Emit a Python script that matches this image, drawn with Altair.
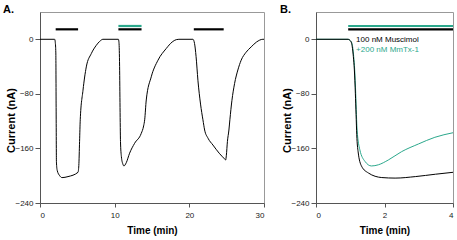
import altair as alt
import pandas as pd

# ---------------- data ----------------
# Panel A: current trace (time in min, current in nA)
a_time = [0, 1.97, 2.05, 2.12, 2.16, 2.2, 2.3, 2.64, 2.95, 3.75, 5.09, 5.2, 5.3, 5.39,
          5.76, 6.2, 6.87, 7.54, 8.0, 8.43, 10.5, 10.58, 10.66, 10.72, 10.78, 10.9,
          11.1, 11.24, 11.55, 12.0, 12.67, 13.56, 13.88, 14.02, 14.23, 14.9, 15.8,
          16.9, 17.7, 18.25, 18.6, 20.48, 20.7, 20.9, 21.15, 21.5, 21.82, 22.05,
          22.5, 23.16, 24.0, 24.72, 24.86, 24.96, 25.1, 25.3, 25.43, 25.7, 26.06,
          26.5, 26.94, 27.6, 28.28, 29.0, 29.85, 30]
a_current = [0, 0, -5, -20, -100, -180, -192, -200, -202.8, -201.3, -195, -185, -150, -118,
             -74.6, -40.5, -21, -8.8, -3, 0, 0, -5, -40, -100, -150, -172,
             -183, -185.7, -181, -167, -152.5, -138, -127, -118, -89, -55, -30.7,
             -13.6, -4, -0.5, 0, 0, -6.3, -25, -60, -95, -118, -133,
             -145, -155, -167, -175.4, -177, -170, -150, -133, -118, -90, -64.8,
             -45, -30.7, -19, -11.2, -4, 0, 0]

# Panel A: application bars (start, end, level, colour)
a_bar_start = [2.1, 10.5, 10.5, 20.6]
a_bar_end = [5.1, 13.6, 13.6, 24.6]
a_bar_level = [14.6, 14.6, 19.5, 14.6]
a_bar_color = ["#000000", "#000000", "#2ba88c", "#000000"]

# Panel B: two traces
b_time_black = [0, 0.94, 1.0, 1.04, 1.09, 1.12, 1.15, 1.17, 1.19, 1.23, 1.33, 1.53,
                1.92, 2.31, 2.9, 3.49, 4.0]
b_curr_black = [0, 0, -2, -6, -25, -45, -80, -110, -140, -165, -186, -196,
                -202.7, -203.5, -201.3, -197.8, -195]
b_time_green = [0, 0.94, 1.0, 1.05, 1.1, 1.13, 1.16, 1.18, 1.2, 1.28, 1.43, 1.62,
                1.82, 2.11, 2.5, 2.99, 3.47, 4.0]
b_curr_green = [0, 0, -2, -6, -25, -45, -80, -110, -133, -162, -179, -185.7,
                -184, -177, -164.7, -153.5, -143.7, -137]

# Panel B: bars and labels
b_bar_start = [0.94, 0.94]
b_bar_end = [4.0, 4.0]
b_bar_level = [19.5, 14.6]
b_bar_color = ["#2ba88c", "#000000"]
b_label_text = ["100 nM Muscimol", "+200 nM MmTx-1"]
b_label_time = [1.17, 1.17]
b_label_curr = [-1, -16]
b_label_color = ["#000000", "#2ba88c"]

GREEN = "#2ba88c"
FONT = "Liberation Sans"
TICKFONT = "Liberation Sans Narrow, Liberation Sans, Arial, sans-serif"

Y_DOMAIN = [-240, 40]
Y_VALUES = [0, -80, -160, -240]


def y_axis():
    return alt.Axis(values=Y_VALUES, title="Current (nA)", grid=False,
                    titleFont=FONT, titleFontSize=11, titleFontWeight="bold",
                    titleColor="black", titleX=-29, titleY=108,
                    titleBaseline="middle", titleAngle=-90,
                    labelFont=TICKFONT, labelFontSize=8, labelColor="#222",
                    tickSize=5, labelPadding=2, tickColor="#555",
                    domainColor="#555")


def x_axis(values):
    return alt.Axis(values=values, title="Time (min)", grid=False,
                    titleFont=FONT, titleFontSize=10, titleFontWeight="bold",
                    titleColor="black", titleY=27, titleBaseline="middle",
                    labelFont=TICKFONT, labelFontSize=8, labelColor="#222",
                    tickSize=4, labelPadding=4, tickColor="#555",
                    domainColor="#555")


# ---------------- panel A ----------------
dfA = pd.DataFrame({"t": a_time, "I": a_current})
barsA = pd.DataFrame({"s": a_bar_start, "e": a_bar_end, "lvl": a_bar_level,
                      "c": a_bar_color})

xA = alt.X("t:Q", scale=alt.Scale(domain=[0, 30], nice=False), axis=x_axis([0, 10, 20, 30]))
yA = alt.Y("I:Q", scale=alt.Scale(domain=Y_DOMAIN, nice=False), axis=y_axis())

lineA = alt.Chart(dfA).mark_line(color="black", strokeWidth=1,
                                 interpolate="monotone").encode(x=xA, y=yA)
ruleA = alt.Chart(barsA).mark_rule(strokeWidth=2.2).encode(
    x=alt.X("s:Q"), x2="e:Q", y=alt.Y("lvl:Q"),
    color=alt.Color("c:N", scale=None))

panelA = alt.layer(lineA, ruleA).properties(
    width=224, height=191,
    title=alt.TitleParams("A.", anchor="start", frame="group", dx=-37, dy=12,
                          offset=0, baseline="alphabetic", font=FONT,
                          fontSize=11, fontWeight="bold", color="black"))

# ---------------- panel B ----------------
dfB = pd.concat([
    pd.DataFrame({"t": b_time_green, "I": b_curr_green, "s": "green", "o": 0}),
    pd.DataFrame({"t": b_time_black, "I": b_curr_black, "s": "black", "o": 1}),
])
barsB = pd.DataFrame({"s": b_bar_start, "e": b_bar_end, "lvl": b_bar_level,
                      "c": b_bar_color})
labB = pd.DataFrame({"t": b_label_time, "I": b_label_curr, "txt": b_label_text,
                     "c": b_label_color})

xB = alt.X("t:Q", scale=alt.Scale(domain=[0, 4], nice=False), axis=x_axis([0, 1, 2, 3, 4]))
yB = alt.Y("I:Q", scale=alt.Scale(domain=Y_DOMAIN, nice=False), axis=y_axis())

lineB = alt.Chart(dfB).mark_line(strokeWidth=1, interpolate="monotone").encode(
    x=xB, y=yB,
    color=alt.Color("s:N", scale=alt.Scale(domain=["green", "black"],
                                           range=[GREEN, "#000000"]), legend=None),
    order=alt.Order("o:Q"),
    detail="s:N")
ruleB = alt.Chart(barsB).mark_rule(strokeWidth=2.2).encode(
    x=alt.X("s:Q"), x2="e:Q", y=alt.Y("lvl:Q"),
    color=alt.Color("c:N", scale=None))
textB = alt.Chart(labB).mark_text(align="left", baseline="middle", font=FONT,
                                  fontSize=8).encode(
    x=alt.X("t:Q"), y=alt.Y("I:Q"), text="txt:N",
    color=alt.Color("c:N", scale=None))

panelB = alt.layer(lineB, ruleB, textB).properties(
    width=137, height=191,
    title=alt.TitleParams("B.", anchor="start", frame="group", dx=-36, dy=12,
                          offset=0, baseline="alphabetic", font=FONT,
                          fontSize=11, fontWeight="bold", color="black"))

chart = alt.hconcat(panelA, panelB, spacing=52, bounds="flush").properties(
    padding={"left": 2, "top": 3, "right": 0, "bottom": 0},
    background="white",
).configure_view(stroke="#999", strokeWidth=1).configure_concat(spacing=52)

chart.save("out.html", embed_options={"renderer": "svg", "actions": False})
